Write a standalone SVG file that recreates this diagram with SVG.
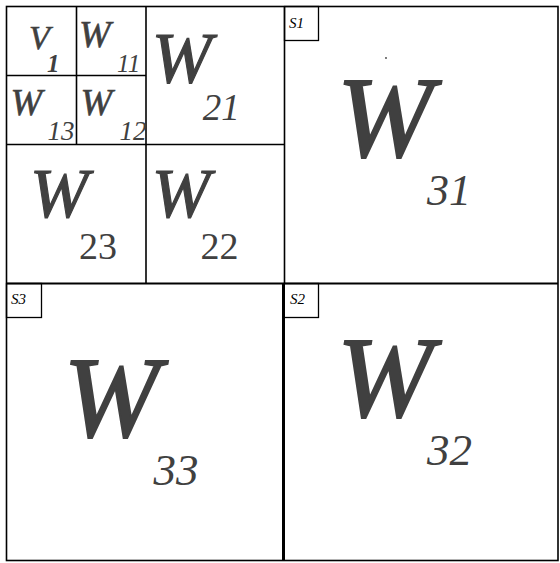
<svg xmlns="http://www.w3.org/2000/svg" width="560" height="563" viewBox="0 0 560 563">
<style>
.ln{stroke:#000;stroke-width:1.6;fill:none}
.big{font-family:"Liberation Serif",serif;font-style:italic;fill:#404040;stroke:#404040}
.sub{font-family:"Liberation Serif",serif;font-style:italic;fill:#404040}
.up{font-family:"Liberation Serif",serif;fill:#404040}
.lab{font-family:"Liberation Serif",serif;font-style:italic;font-size:15px;fill:#000}
</style>
<rect width="560" height="563" fill="#fff"/>
<g id="connectors">
<rect class="ln" x="6.5" y="6.5" width="551.5" height="554"/>
<line class="ln" x1="284.5" y1="6" x2="284.5" y2="283"/>
<line class="ln" x1="283.5" y1="283" x2="283.5" y2="561" style="stroke-width:3"/>
<line class="ln" x1="6" y1="283.5" x2="558" y2="283.5" style="stroke-width:1.8"/>
<line class="ln" x1="146" y1="6" x2="146" y2="283"/>
<line class="ln" x1="6" y1="144.5" x2="284" y2="144.5"/>
<line class="ln" x1="76.5" y1="6" x2="76.5" y2="144.5"/>
<line class="ln" x1="6" y1="75.5" x2="146" y2="75.5"/>
</g>
<g id="V1"><text class="big" x="29" y="49" font-size="34" stroke-width="0.6">V</text><text class="sub" x="47" y="72" font-size="25" font-weight="bold" fill="#202020">1</text></g>
<g id="W11"><text class="big" x="79" y="47" font-size="38" stroke-width="0.6">W</text><text class="sub" x="117" y="71.5" font-size="25">11</text></g>
<g id="W13"><text class="big" x="10.5" y="115" font-size="38" stroke-width="0.6">W</text><text class="sub" x="47.5" y="140" font-size="27">13</text></g>
<g id="W12"><text class="big" x="80.5" y="115" font-size="38" stroke-width="0.6">W</text><text class="sub" x="119.5" y="140" font-size="27">12</text></g>
<g id="W21"><text class="big" x="151.7" y="82" font-size="72" stroke-width="1.2">W</text><text class="sub" x="202.7" y="120" font-size="37">21</text></g>
<g id="W23"><text class="big" x="30" y="217" font-size="70" stroke-width="1.2">W</text><text class="up" x="79" y="259" font-size="38">23</text></g>
<g id="W22"><text class="big" x="151.7" y="217" font-size="70" stroke-width="1.2">W</text><text class="up" x="200.5" y="259" font-size="38">22</text></g>
<g id="S1"><rect class="ln" x="284.5" y="6.5" width="34" height="34" style="stroke-width:1.3"/><text class="lab" x="289" y="28">S1</text></g>
<g id="W31"><text class="big" x="337" y="156" font-size="115" stroke-width="2">W</text><text class="sub" x="427" y="205" font-size="44">31</text><circle cx="386" cy="58" r="0.9" fill="#404040"/></g>
<g id="S3"><rect class="ln" x="6.5" y="283.5" width="35" height="34" style="stroke-width:1.3"/><text class="lab" x="11" y="304">S3</text></g>
<g id="W33"><text class="big" x="63.5" y="436" font-size="115" stroke-width="2">W</text><text class="sub" x="153.5" y="485" font-size="45">33</text></g>
<g id="S2"><rect class="ln" x="284" y="283.5" width="34.5" height="34" style="stroke-width:1.3"/><text class="lab" x="290" y="304">S2</text></g>
<g id="W32"><text class="big" x="337" y="416" font-size="115" stroke-width="2">W</text><text class="sub" x="427" y="465" font-size="45">32</text></g>
</svg>
